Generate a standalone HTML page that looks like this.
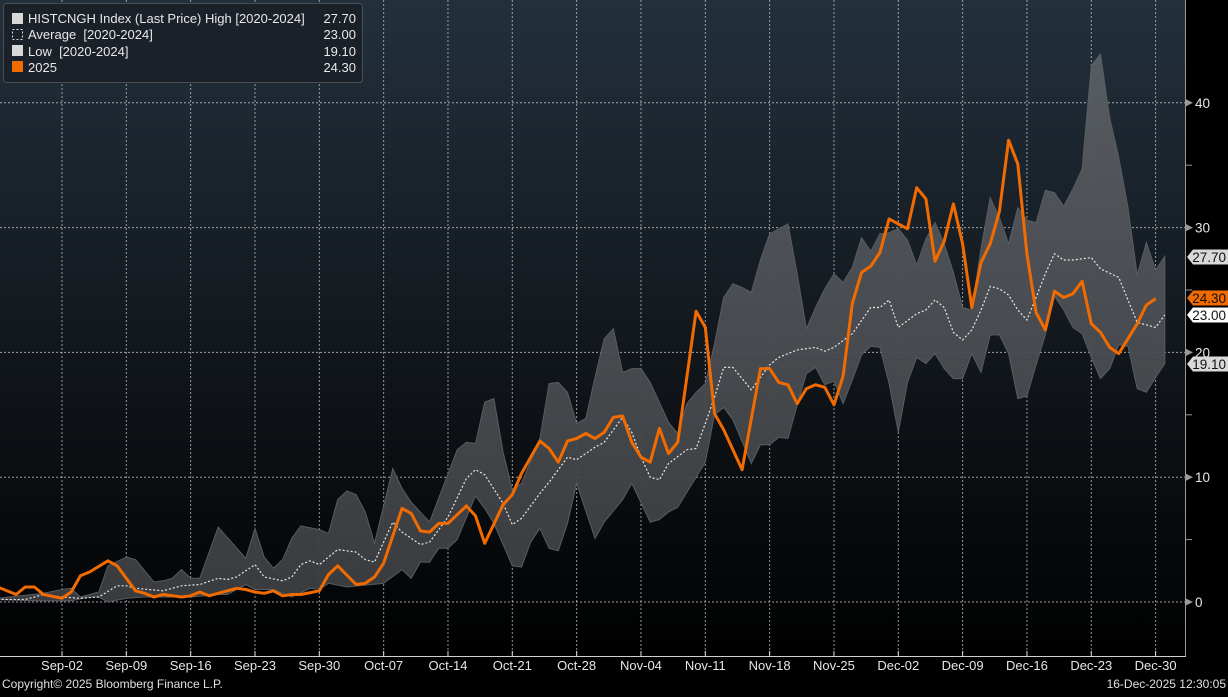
<!DOCTYPE html>
<html><head><meta charset="utf-8">
<style>
html,body{margin:0;padding:0;background:#000;}
body{width:1228px;height:692px;overflow:hidden;font-family:"Liberation Sans","DejaVu Sans",sans-serif;}
svg text{font-family:"Liberation Sans","DejaVu Sans",sans-serif;white-space:pre;}
</style></head>
<body>
<svg id="chart" width="1228" height="692" xmlns="http://www.w3.org/2000/svg">
<defs>
<linearGradient id="bg" x1="0" y1="0" x2="0" y2="1">
<stop offset="0" stop-color="#23303c"/><stop offset="0.55" stop-color="#11161b"/><stop offset="0.93" stop-color="#030405"/><stop offset="1" stop-color="#000"/>
</linearGradient>
<linearGradient id="band" x1="0" y1="0" x2="0" y2="1">
<stop offset="0" stop-color="#5a5f64"/><stop offset="1" stop-color="#3c3e41"/>
</linearGradient>
</defs>
<rect x="0" y="0" width="1228" height="692" fill="#000"/>
<rect x="0" y="0" width="1186" height="657" fill="url(#bg)"/>
<g id="grid"></g>
<g id="series"></g>
<line x1="1185.5" y1="0" x2="1185.5" y2="657" stroke="#9a9a9a" stroke-width="1"/>
<line x1="0" y1="656.5" x2="1186" y2="656.5" stroke="#d0d0d0" stroke-width="1"/>
<g id="axes"></g>
<g id="tags"></g>
<g>
<rect x="3.5" y="3.5" width="359" height="79" rx="3" fill="#1b2129" stroke="#4a4f55"/>
<rect x="12" y="13" width="11" height="11" fill="#d8d8d8"/>
<text x="28" y="23" fill="#e8e8e8" font-size="13">HISTCNGH Index (Last Price) High [2020-2024]</text>
<text x="356" y="23" fill="#e8e8e8" font-size="13" text-anchor="end">27.70</text>
<rect x="12.5" y="29.5" width="10" height="10" fill="none" stroke="#ddd" stroke-dasharray="2,2"/>
<text x="28" y="39" fill="#e8e8e8" font-size="13">Average  [2020-2024]</text>
<text x="356" y="39" fill="#e8e8e8" font-size="13" text-anchor="end">23.00</text>
<rect x="12" y="45" width="11" height="11" fill="#d8d8d8"/>
<text x="28" y="56" fill="#e8e8e8" font-size="13">Low  [2020-2024]</text>
<text x="356" y="56" fill="#e8e8e8" font-size="13" text-anchor="end">19.10</text>
<rect x="12" y="61" width="11" height="11" fill="#f26b00"/>
<text x="28" y="72" fill="#e8e8e8" font-size="13">2025</text>
<text x="356" y="72" fill="#e8e8e8" font-size="13" text-anchor="end">24.30</text>
</g>
<text x="2" y="688" fill="#e0e0e0" font-size="12">Copyright© 2025 Bloomberg Finance L.P.</text>
<text x="1226" y="688" fill="#e0e0e0" font-size="12" text-anchor="end">16-Dec-2025 12:30:05</text>
</svg>
<script>
// Data (day offsets from Sep-02)
const weekLabels = ["Sep-02","Sep-09","Sep-16","Sep-23","Sep-30","Oct-07","Oct-14","Oct-21","Oct-28","Nov-04","Nov-11","Nov-18","Nov-25","Dec-02","Dec-09","Dec-16","Dec-23","Dec-30"];
const yTicks = [0,10,20,30,40];
const y2025Days = [-7,-5,-4,-3,-2,0,1,2,3,5,6,8,9,10,11,13,14,15,16,18,19,20,21,22,23,24,25,26,28,29,30,32,33,34,35,37,38,39,40,41,42,44,45,46,48,49,50,52,53,54,55,56,57,58,59,60,61,62,63,64,65,66,67,69,70,71,72,74,76,77,78,79,80,81,82,83,84,85,86,87,88,89,90,91,92,93,94,95,96,97,98,99,100,101,102,103,104,105,106,107,108,109,110,111,112,113,114,115,116,117,118,119];
const y2025Vals = [1.2,0.6,1.2,1.2,0.6,0.3,0.8,2.1,2.4,3.3,2.9,0.9,0.7,0.4,0.6,0.4,0.5,0.8,0.5,0.9,1.1,1.0,0.8,0.7,0.9,0.5,0.6,0.6,0.9,2.2,2.9,1.4,1.5,2.0,3.1,7.5,7.1,5.7,5.6,6.3,6.3,7.7,6.9,4.7,7.8,8.6,10.3,12.9,12.3,11.2,12.9,13.1,13.5,13.1,13.6,14.8,14.9,12.8,11.6,11.2,13.9,11.9,12.8,23.3,22.0,15.1,13.8,10.6,18.7,18.7,17.6,17.4,15.9,17.1,17.4,17.2,15.8,18.1,23.9,26.4,26.9,28.0,30.7,30.3,29.9,33.2,32.3,27.3,28.9,31.9,28.7,23.6,27.2,28.7,31.3,37.0,35.1,27.9,23.2,21.8,24.9,24.4,24.7,25.7,22.3,21.6,20.4,19.9,21.1,22.3,23.8,24.3];
const highDays = [-7,-2,0,1,2,4,5,7,8,10,11,12,13,14,15,17,20,21,22,23,24,25,26,28,29,30,31,32,33,34,36,37,38,40,43,44,45,46,47,48,49,50,52,53,54,55,56,57,58,59,60,61,62,63,64,65,66,67,68,69,70,71,72,73,74,75,76,77,79,80,81,82,83,84,85,86,87,88,89,90,91,92,93,94,95,96,97,98,99,100,101,102,103,104,105,106,107,108,109,110,111,112,113,114,115,116,117,118,119,120];
const highVals = [0.3,0.7,1.0,1.1,0.4,0.8,2.9,3.6,3.4,1.6,1.7,1.9,2.6,1.9,1.9,6.0,3.5,5.9,3.6,2.7,3.4,5.1,6.1,5.8,5.5,8.2,8.9,8.6,7.2,4.7,10.7,9.1,8.0,6.4,12.2,12.8,12.7,16.0,16.3,12.0,9.0,9.5,13.1,17.5,17.6,16.8,14.3,14.7,18.0,21.1,21.9,18.4,18.7,18.7,17.6,16.0,14.4,13.5,15.9,16.8,17.5,20.7,24.4,25.5,25.2,24.8,27.4,29.5,30.3,26.3,21.9,23.6,25.1,26.3,25.6,26.8,29.2,28.1,29.5,29.6,29.9,29.0,27.0,29.1,30.4,28.7,26.4,23.6,23.4,28.3,32.4,30.8,28.7,31.6,30.6,30.4,33.0,32.8,31.7,33.1,34.7,43.0,43.9,38.8,35.6,31.6,26.2,28.8,26.6,27.7];
const lowDays = [-7,-3,1,3,4,5,7,9,12,14,17,18,20,21,23,24,25,27,28,29,31,35,37,38,39,40,41,42,43,45,46,47,48,49,50,51,52,53,54,55,56,58,59,61,62,64,65,66,67,69,70,71,72,73,75,76,77,78,79,80,81,82,83,84,85,86,87,88,89,90,91,92,93,94,95,96,97,98,99,100,101,102,103,104,105,106,107,108,109,110,111,112,113,114,115,116,117,118,119,120];
const lowVals = [0.2,0.1,0.1,0.4,0.4,0.0,0.3,0.4,0.4,0.4,0.6,0.6,1.4,1.0,1.0,0.7,0.4,1.1,1.0,1.5,1.2,1.5,2.6,1.9,3.2,3.2,4.3,4.3,5.0,8.5,7.5,6.3,4.6,2.9,2.8,4.8,5.9,4.3,4.1,6.3,9.5,5.1,6.4,8.2,9.5,6.4,6.6,7.2,7.6,10.0,11.2,15.0,15.6,14.6,11.1,12.6,12.6,13.2,13.1,15.8,18.3,18.8,17.4,17.7,15.9,17.8,19.8,20.5,20.4,17.5,13.6,17.6,19.6,19.1,19.9,18.7,17.9,17.9,19.9,18.4,21.4,21.4,19.9,16.3,16.5,19.0,21.4,24.5,23.4,22.0,21.5,19.6,17.9,18.7,20.6,20.5,17.1,16.8,18.0,19.1];
const avgDays = [-7,-4,-2,0,2,4,6,7,8,11,13,15,17,18,19,21,22,24,25,26,27,28,30,32,33,34,36,37,39,40,42,44,45,46,48,49,50,52,53,55,56,58,59,61,62,63,64,65,66,68,69,70,71,72,73,75,77,78,80,82,83,84,86,88,89,90,91,93,94,95,96,97,98,99,100,101,102,103,104,105,106,107,108,109,110,112,113,115,116,117,119,120];
const avgVals = [0.2,0.2,0.6,0.4,0.3,0.4,1.3,1.3,1.1,0.9,1.3,1.4,1.9,1.8,2.0,3.0,2.0,1.7,2.0,3.0,3.3,3.0,4.2,4.0,3.4,3.2,6.4,5.6,4.6,4.8,6.8,9.9,10.6,10.2,7.9,6.2,6.7,8.7,9.6,11.6,11.4,12.4,12.8,14.8,13.6,11.6,10.0,9.8,11.1,12.2,12.3,14.3,16.4,18.8,18.8,17.0,19.0,19.6,20.2,20.4,20.1,20.4,21.5,23.6,23.6,24.2,22.0,23.1,23.4,24.2,23.6,21.6,21.0,21.8,23.4,25.3,25.1,24.6,23.4,22.6,24.4,26.3,27.9,27.4,27.4,27.6,26.7,26.0,24.2,22.4,22.0,23.0];
const tagLabels = ["27.70","24.30","23.00","19.10"];
const tagValues = [27.7,24.3,23.0,19.1];

const NS="http://www.w3.org/2000/svg";
function xs(d){return 62+d*9.19;}
function ys(v){return 602-v*12.48;}
function mk(tag,attrs,parent){const e=document.createElementNS(NS,tag);for(const k in attrs)e.setAttribute(k,attrs[k]);parent.appendChild(e);return e;}
const grid=document.getElementById('grid'),series=document.getElementById('series'),axes=document.getElementById('axes'),tags=document.getElementById('tags');

yTicks.forEach(function(t){
  const l=mk('line',{x1:0,x2:1185,y1:ys(t),y2:ys(t),stroke:'#cfcfcf','stroke-width':1,'stroke-dasharray':'2,2',opacity:0.75},grid);
  
  
  const p=mk('polygon',{points:(1186)+','+(ys(t)-3.5)+' '+(1193)+','+ys(t)+' '+1186+','+(ys(t)+3.5),fill:'#999'},axes);
  
  
  const tx=mk('text',{x:1195,y:ys(t)+5,fill:'#e6e6e6','font-size':13.5},axes);
  tx.textContent=String(t);
  
  
});
[5,15,25,35].forEach(function(t){
  const l=mk('line',{x1:1186,x2:1192,y1:ys(t),y2:ys(t),stroke:'#999'},axes);
  
  
});
weekLabels.forEach(function(lab,i){
  const x=xs(i*7);
  const l=mk('line',{x1:x,x2:x,y1:0,y2:656,stroke:'#cfcfcf','stroke-width':1,'stroke-dasharray':'2,2',opacity:0.7},grid);
  
  
  const tk=mk('line',{x1:x,x2:x,y1:651,y2:657,stroke:'#ddd'},axes);
  
  
  const tx=mk('text',{x:x,y:670,fill:'#e6e6e6','font-size':13,'text-anchor':'middle'},axes);
  tx.textContent=lab;
  
  
});

let pts=[];
highDays.forEach(function(d,i){pts.push(xs(d).toFixed(1)+','+ys(highVals[i]).toFixed(1));});
for(let i=lowDays.length-1;i>=0;i--){pts.push(xs(lowDays[i]).toFixed(1)+','+ys(lowVals[i]).toFixed(1));}
const band=mk('polygon',{points:pts.join(' '),fill:'url(#band)',stroke:'#5c6166','stroke-width':1,opacity:0.95},series);



function line(days,vals,attrs){return mk('polyline',Object.assign({points:days.map(function(d,i){return xs(d).toFixed(1)+','+ys(vals[i]).toFixed(1);}).join(' '),fill:'none'},attrs),series);}
const avg=line(avgDays,avgVals,{stroke:'#e8e8e8','stroke-width':1.2,'stroke-dasharray':'2,2'});


const l25=line(y2025Days,y2025Vals,{stroke:'#f26b00','stroke-width':3,'stroke-linejoin':'round'});



const tagFill=['#d9d9d9','#f26b00','#ffffff','#d9d9d9'];
const tagText=['#111','#111','#111','#111'];
const tagY=[257,298,315,364];
tagLabels.forEach(function(lab,i){
  const cy=tagY[i];
  const p=mk('polygon',{points:'1187,'+cy+' 1193,'+(cy-7.5)+' 1228,'+(cy-7.5)+' 1228,'+(cy+7.5)+' 1193,'+(cy+7.5),fill:tagFill[i]},tags);
  
  
  const t=mk('text',{x:1226,y:cy+5,fill:tagText[i],'font-size':13.5,'text-anchor':'end'},tags);
  t.textContent=lab;
  
  
});
</script>
</body></html>
